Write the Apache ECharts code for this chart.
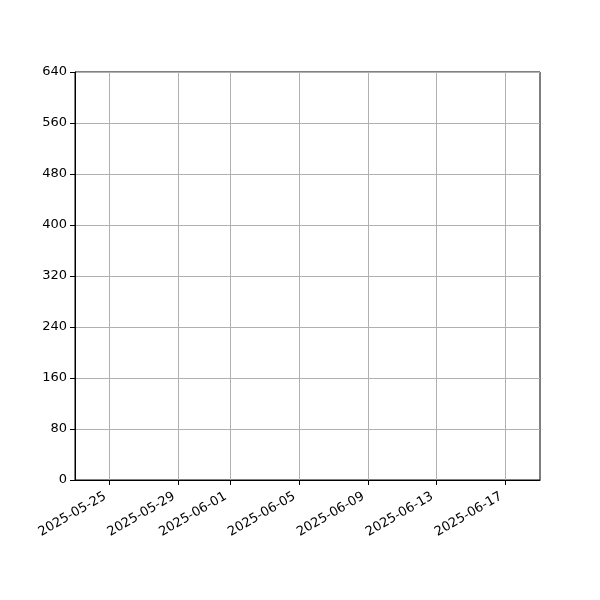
<!DOCTYPE html>
<html>
<head>
<meta charset="utf-8">
<script src="https://cdn.jsdelivr.net/npm/echarts@6/dist/echarts.min.js"></script>
<style>html,body{margin:0;padding:0;background:#fff}#c{width:600px;height:600px}</style>
</head>
<body>
<div id="c"></div>
<script>
// Data (the reference plot contains no visible marks)
const dates = [];
const values = [];
const xRange = ['2025-05-23', '2025-06-19'];
const xTickLabels = ['2025-05-25', '2025-05-29', '2025-06-01', '2025-06-05', '2025-06-09', '2025-06-13', '2025-06-17'];
const yTicks = [0, 80, 160, 240, 320, 400, 480, 560, 640];

const ms = s => Date.parse(s + 'T00:00:00Z');
const fmt = v => new Date(v).toISOString().slice(0, 10);
const xTicks = xTickLabels.map(ms);

const chart = echarts.init(document.getElementById('c'));
chart.setOption({
  animation: false,
  backgroundColor: '#fff',
  textStyle: { fontFamily: 'DejaVu Sans' },
  grid: { left: 75, right: 60, top: 72, bottom: 120, show: true, borderColor: '#000', borderWidth: 1, backgroundColor: 'transparent' },
  xAxis: {
    type: 'value',
    min: ms(xRange[0]),
    max: ms(xRange[1]),
    axisLine: { lineStyle: { color: '#000', width: 1 } },
    axisTick: { show: true, length: 5, lineStyle: { color: '#000' }, customValues: xTicks },
    axisLabel: { customValues: xTicks, formatter: fmt, rotate: 30, color: '#000', fontSize: 13, margin: 13, padding: [0, 5, 0, 0], fontFamily: 'DejaVu Sans' },
    splitLine: { show: true, lineStyle: { color: '#b0b0b0', width: 1 } }
  },
  yAxis: {
    type: 'value',
    min: yTicks[0],
    max: yTicks[yTicks.length - 1],
    interval: 80,
    axisLine: { show: true, lineStyle: { color: '#000', width: 1 } },
    axisTick: { show: true, length: 5, lineStyle: { color: '#000' } },
    axisLabel: { color: '#000', fontSize: 13, margin: 8, fontFamily: 'DejaVu Sans' },
    splitLine: { show: true, lineStyle: { color: '#b0b0b0', width: 1 } }
  },
  series: [{
    type: 'line',
    data: dates.map((d, i) => [ms(d), values[i]]),
    showSymbol: false
  }]
});
</script>
</body>
</html>
